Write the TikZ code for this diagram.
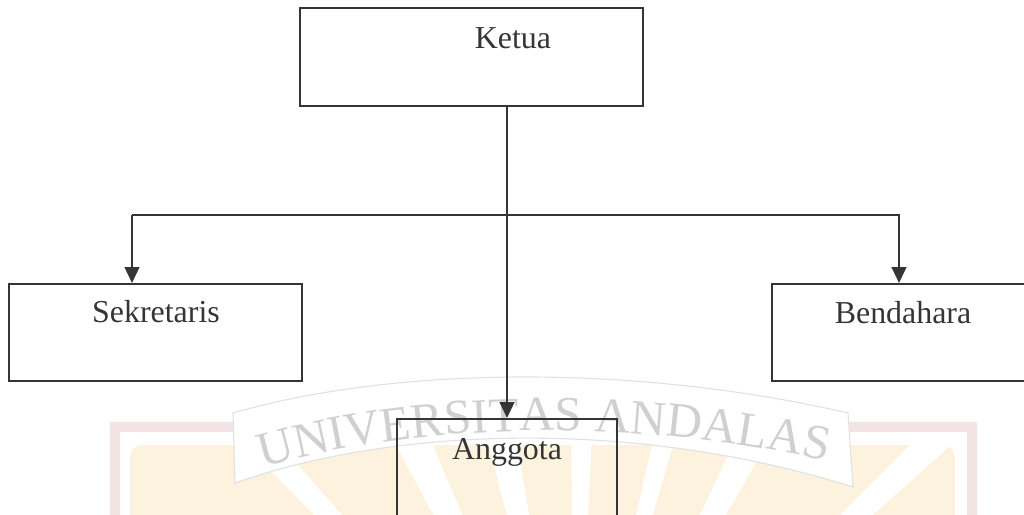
\documentclass[tikz,border=0pt]{standalone}
\usepackage{fontspec}
\setmainfont{Liberation Serif}
\usetikzlibrary{arrows.meta,decorations.text}
\definecolor{ink}{HTML}{353535}
\definecolor{wmpink}{HTML}{F2E4E4}
\definecolor{wmyellow}{HTML}{FCF2DE}
\definecolor{wmgray}{HTML}{D0D0D0}
\definecolor{wmedge}{HTML}{E2E2E2}
\tikzset{
  box/.style={draw=ink,line width=1.4pt,rectangle,inner sep=0pt},
  lbl/.style={font=\fontsize{22.7}{26}\selectfont,text=ink,anchor=base,inner sep=0pt},
  arr/.style={draw=ink,line width=1.4pt,-{Triangle[length=4mm,width=3.7mm]}},
  ray/.style={fill=white,draw=none}
}
\begin{document}
\begin{tikzpicture}[x=0.25mm,y=0.25mm]
\useasboundingbox (0,0) rectangle (1024,515);
\clip (0,0) rectangle (1024,515);
\fill[white] (0,0) rectangle (1024,515);
% watermark
\fill[wmpink,even odd rule] (110,93) rectangle (977,-30) (120,83) rectangle (967,-30);
\begin{scope}
  \clip[rounded corners=3mm] (130,70) rectangle (955,-40);
  \fill[wmyellow] (130,70) rectangle (955,-40);
  \fill[ray] (575,-265) -- (216,100) -- (254,100) -- cycle;
  \fill[ray] (575,-265) -- (380,100) -- (420,100) -- cycle;
  \fill[ray] (575,-265) -- (481,100) -- (512,100) -- cycle;
  \fill[ray] (575,-265) -- (571,100) -- (593,100) -- cycle;
  \fill[ray] (575,-265) -- (659,100) -- (682,100) -- cycle;
  \fill[ray] (575,-265) -- (747,100) -- (783,100) -- cycle;
  \fill[ray] (575,-265) -- (940,100) -- (985,100) -- cycle;
\end{scope}
\filldraw[fill=white,draw=wmedge,line width=0.8pt]
  (233,102) .. controls (400,150) and (640,150) .. (848,102)
  -- (853,28) .. controls (640,95) and (400,90) .. (235,32) -- cycle;
\path[decorate,decoration={text along path,
  text={|\fontsize{35}{35}\selectfont|UNIVERSITAS ANDALAS},
  text align=center,text color=wmgray}]
  (255,45) .. controls (420,95) and (640,97) .. (835,52);
% boxes
\node[box,minimum width=85.75mm,minimum height=24.5mm] (ketua) at (471.5,458) {};
\node[box,minimum width=73.25mm,minimum height=24.25mm] (sek) at (155.5,182.5) {};
\node[box,minimum width=63.5mm,minimum height=24.25mm] (bend) at (899,182.5) {};
\node[box,minimum width=55mm,minimum height=30.25mm] (ang) at (507,35.5) {};
% labels
\node[lbl] (tketua) at (513,466) {Ketua};
\node[lbl] (tsek) at (156,192) {Sekretaris};
\node[lbl] (tbend) at (903,191) {Bendahara};
\node[lbl] (tang) at (507,55) {Anggota};
% connectors
\coordinate (busL) at (132,300);
\coordinate (busR) at (bend.north |- busL);
\draw[arr] (ketua.south -| ang.north) -- (ang.north);
\draw[arr] (busL) -- (busR) -- (bend.north);
\draw[arr] (busL) -- (busL |- sek.north);
\end{tikzpicture}
\end{document}
